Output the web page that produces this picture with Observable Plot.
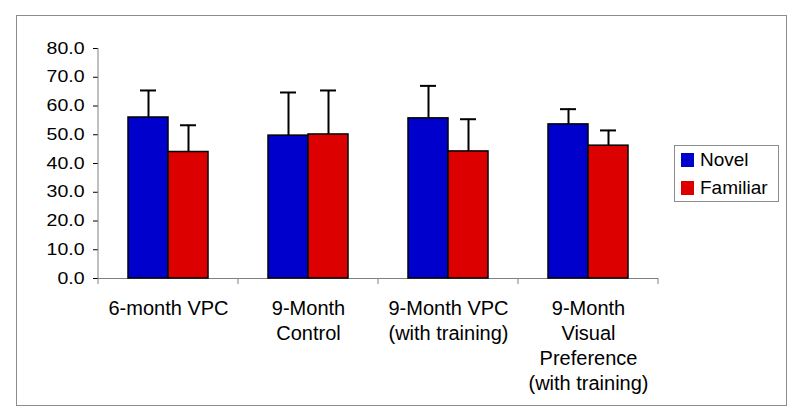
<!DOCTYPE html>
<html>
<head>
<meta charset="utf-8">
<script src="https://cdn.jsdelivr.net/npm/d3@7"></script>
<script src="https://cdn.jsdelivr.net/npm/@observablehq/plot@0.6"></script>
<style>
  html, body { margin: 0; padding: 0; background: #fff; }
  #wrap { position: relative; width: 800px; height: 419px; font-family: "Liberation Sans", Arial, sans-serif; }
  #frame { position: absolute; left: 16px; top: 15px; width: 769px; height: 389px; border: 1.5px solid #8c8c8c; pointer-events: none; }
  #legend { position: absolute; left: 674px; top: 145px; width: 103px; height: 55px; border: 1px solid #8c8c8c; background: #fff; }
  .item { position: absolute; left: 6px; height: 20px; display: flex; align-items: center; font-size: 19px; color: #000; white-space: nowrap; }
  .sw { width: 13px; height: 14px; margin-right: 6px; }
  #chart { position: absolute; left: 0; top: 0; }
</style>
</head>
<body>
<div id="wrap">
  <div id="chart"></div>
  <div id="frame"></div>
  <div id="legend"></div>
</div>
<script>
const categories = ["6-month VPC", "9-Month Control", "9-Month VPC (with training)", "9-Month Visual Preference (with training)"];
const tickLabels = ["6-month VPC", "9-Month\nControl", "9-Month VPC\n(with training)", "9-Month\nVisual\nPreference\n(with training)"];
const series = ["Novel", "Familiar"];
const novelMean = [56.0, 49.7, 55.7, 53.6];
const novelErr = [9.4, 15.0, 11.3, 5.3];
const familiarMean = [44.0, 50.1, 44.2, 46.2];
const familiarErr = [9.3, 15.3, 11.2, 5.3];
const yTicks = [0, 10, 20, 30, 40, 50, 60, 70, 80];
const colors = ["#0000cc", "#dd0000"];

const rows = [];
categories.forEach((c, i) => {
  rows.push({cat: c, series: "Novel", mean: novelMean[i], err: novelErr[i]});
  rows.push({cat: c, series: "Familiar", mean: familiarMean[i], err: familiarErr[i]});
});

const chart = Plot.plot({
  width: 800, height: 419,
  marginLeft: 97, marginRight: 141, marginTop: 48, marginBottom: 141,
  style: {fontFamily: "'Liberation Sans', Arial, sans-serif", background: "transparent", color: "#000"},
  fx: {domain: categories, padding: 0, label: null},
  x: {domain: series, paddingInner: 0, paddingOuter: 0.735, axis: null, label: null},
  y: {domain: [0, 80], label: null},
  color: {domain: series, range: colors},
  marks: [
    Plot.axisY({ticks: yTicks, tickFormat: d => d.toFixed(1), tickSize: 5, tickPadding: 9, fontSize: 16, label: null}),
    Plot.axisFx({anchor: "bottom", tickSize: 0, tickPadding: 19, fontSize: 20, lineHeight: 1.25, label: null,
      tickFormat: d => tickLabels[categories.indexOf(d)]}),
    Plot.ruleY([0], {stroke: "#808080", strokeWidth: 1}),
    Plot.ruleX(rows, {fx: "cat", x: "series", y1: "mean", y2: d => d.mean + d.err, stroke: "#000", strokeWidth: 2}),
    Plot.tickY(rows, {fx: "cat", x: "series", y: d => d.mean + d.err, stroke: "#000", strokeWidth: 2, insetLeft: 12, insetRight: 12}),
    Plot.barY(rows, {fx: "cat", x: "series", y: "mean", fill: "series", stroke: "#000", strokeWidth: 1.5})
  ]
});
document.getElementById("chart").appendChild(chart);

// axis line and band-boundary ticks from Plot's own scales
const fx = chart.scale("fx"), y = chart.scale("y");
const svg = d3.select(chart);
const g = svg.append("g").attr("stroke", "#808080").attr("stroke-width", 1);
const x0 = fx.apply(categories[0]);
g.append("line").attr("x1", x0).attr("x2", x0).attr("y1", y.apply(0)).attr("y2", y.apply(80));
const edges = categories.map(c => fx.apply(c)).concat([fx.apply(categories[categories.length - 1]) + fx.bandwidth]);
edges.forEach(e => g.append("line").attr("x1", e).attr("x2", e).attr("y1", y.apply(0)).attr("y2", y.apply(0) + 6));
svg.selectAll('[aria-label="y-axis tick"]').attr("stroke", "#808080");
svg.selectAll('[aria-label="y-axis tick label"] text').each(function() {
  const t = this.getAttribute("transform") || "";
  this.setAttribute("transform", t + " scale(1.22,1)");
});

// legend
const legend = document.getElementById("legend");
series.forEach((s, i) => {
  const it = document.createElement("div");
  it.className = "item";
  it.style.top = (4 + i * 28) + "px";
  it.innerHTML = `<div class="sw" style="background:${colors[i]}"></div><span>${s}</span>`;
  legend.appendChild(it);
});
</script>
</body>
</html>
